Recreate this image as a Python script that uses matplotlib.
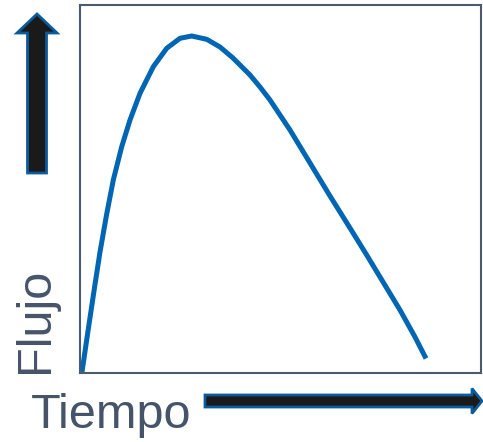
import matplotlib
matplotlib.use("Agg")
import matplotlib.pyplot as plt
from matplotlib.patches import FancyArrow

# Curve (time, flow) in arbitrary units
tiempo = [2, 8, 14, 20, 26.7, 33.3, 41.7, 50, 60, 73.3, 86.7, 100, 111.7,
          126.7, 140, 153, 170, 180, 190, 200, 210, 230, 250, 270, 286.7,
          300, 320, 335, 346]
flujo = [0.5, 41.5, 81.5, 120.5, 158.5, 192.5, 225.8, 252.5, 279.2, 305.8,
         324.2, 334.2, 336.5, 333.2, 325.5, 314.5, 297.5, 285.5, 272.5,
         257.5, 242.5, 209.5, 176.5, 144.5, 117.5, 95.5, 62.5, 35.5, 14]

x_label = "Tiempo"
y_label = "Flujo"

text_color = "#46546a"
line_color = "#0066b3"

fig = plt.figure(figsize=(4.83, 4.42), dpi=100)

# Background helper axes in pixel coordinates for arrows and labels
bg = fig.add_axes([0, 0, 1, 1])
bg.set_xlim(0, 483)
bg.set_ylim(442, 0)
bg.axis("off")

ax = fig.add_axes([80 / 483, 1 - 372.5 / 442, 401 / 483, 367.5 / 442])
ax.plot(tiempo, flujo, color=line_color, lw=3.6, solid_capstyle="butt",
        solid_joinstyle="round")
ax.set_xlim(0, 401)
ax.set_ylim(0, 367.5)
ax.set_xticks([])
ax.set_yticks([])
for s in ax.spines.values():
    s.set_color("#4a5a70")
    s.set_linewidth(1.5)

# Arrows
bg.add_patch(FancyArrow(37, 173, 0, -159, width=19, head_width=40,
                        head_length=19, length_includes_head=True,
                        facecolor="#1a1a1a", edgecolor="#0a5a9c", lw=2))
bg.add_patch(FancyArrow(205, 401, 277, 0, width=12, head_width=25,
                        head_length=10, length_includes_head=True,
                        facecolor="#1a1a1a", edgecolor="#0a5a9c", lw=2))

bg.text(35, 373, y_label, rotation=90, ha="center", va="bottom",
        fontsize=35, color=text_color, family="Liberation Sans")
bg.text(31, 428, x_label, ha="left", va="baseline",
        fontsize=35, color=text_color, family="Liberation Sans")

fig.savefig("out.png", dpi=100)
